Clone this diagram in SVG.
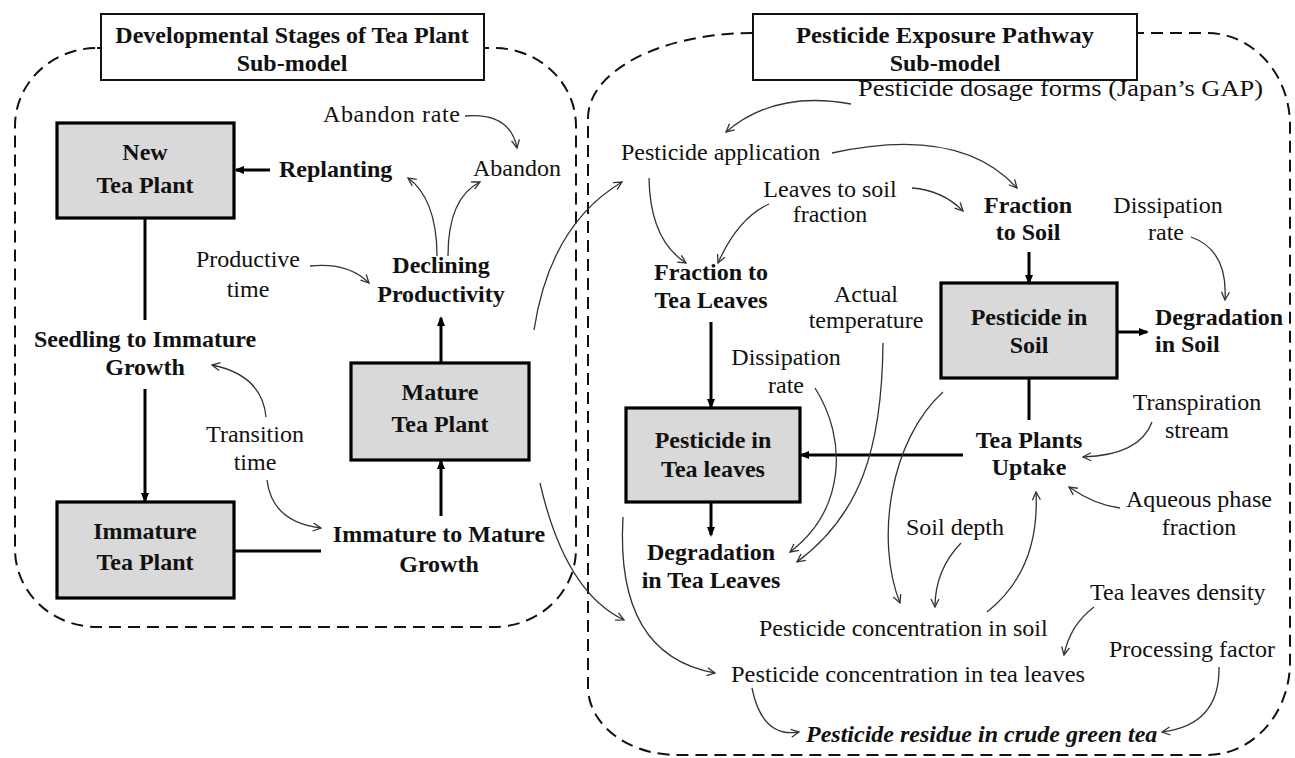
<svg xmlns="http://www.w3.org/2000/svg" width="1295" height="758" viewBox="0 0 1295 758">
<defs>
<style>
text{font-family:"Liberation Serif","Times New Roman",serif;font-size:24px;fill:#111}
.b{font-weight:bold}
.m{text-anchor:middle}
.panel{fill:none;stroke:#111;stroke-width:2;stroke-dasharray:12 7}
.title{fill:#fff;stroke:#111;stroke-width:2}
.box{fill:#d9d9d9;stroke:#000;stroke-width:3.2}
.thin{fill:none;stroke:#333;stroke-width:1.3;marker-end:url(#ah)}
.thick{fill:none;stroke:#000;stroke-width:3;marker-end:url(#ahb)}
.line{fill:none;stroke:#000;stroke-width:3}
</style>
<marker id="ah" viewBox="0 0 10 10" refX="9" refY="5" markerWidth="10" markerHeight="10" markerUnits="userSpaceOnUse" orient="auto">
<path d="M1,1 L9,5 L1,9" fill="none" stroke="#333" stroke-width="1.3"/>
</marker>
<marker id="ahb" viewBox="0 0 10 10" refX="8" refY="5" markerWidth="11" markerHeight="10" markerUnits="userSpaceOnUse" orient="auto">
<path d="M0,1 L10,5 L0,9 z" fill="#000"/>
</marker>
</defs>

<g id="panels">
<rect class="panel" x="15" y="48" width="561" height="579" rx="82" ry="78"/>
<path class="panel" d="M752,33 H1207 A83 92 0 0 1 1290,125 V662 A83 93 0 0 1 1207,755 H677 A89 68 0 0 1 588,687 V118 A164 85 0 0 1 752,33 Z"/>
</g>

<g id="connectors">
<path class="thin" d="M465,116 Q510,112 517,148"/>
<path class="thin" d="M437,256 C437,215 425,190 408,178"/>
<path class="thin" d="M448,256 C448,215 460,192 480,182"/>
<path class="thin" d="M310,266 Q348,262 369,283"/>
<path class="thin" d="M266,417 Q262,375 212,365"/>
<path class="thin" d="M267,480 Q272,522 321,528"/>
<path class="thick" d="M270,170 H236"/>
<path class="line" d="M145,218 V320"/>
<path class="thick" d="M145,389 V501"/>
<path class="line" d="M234,551 H321"/>
<path class="thick" d="M441,516 V461"/>
<path class="thick" d="M441,363 V318"/>
<path class="thin" d="M534,330 Q550,225 622,182"/>
<path class="thin" d="M540,483 Q565,592 624,620"/>
<path class="thin" d="M851,104 Q775,90 726,132"/>
<path class="thin" d="M832,153 Q960,125 1017,188"/>
<path class="thin" d="M649,178 Q650,240 686,263"/>
<path class="thin" d="M912,188 Q942,190 963,211"/>
<path class="thin" d="M769,204 Q738,218 718,263"/>
<path class="thin" d="M1191,237 Q1228,250 1225,300"/>
<path class="thick" d="M1029,252 V283"/>
<path class="thick" d="M1117,332 H1147"/>
<path class="line" d="M1029,378 V420"/>
<path class="thick" d="M963,455 H801"/>
<path class="thick" d="M711,322 V407"/>
<path class="thick" d="M711,502 V535"/>
<path class="thin" d="M1152,422 Q1140,455 1083,457"/>
<path class="thin" d="M1120,508 Q1095,505 1069,487"/>
<path class="thin" d="M815,388 C848,440 845,510 790,552"/>
<path class="thin" d="M883,343 C882,450 860,515 797,562"/>
<path class="thin" d="M943,392 C890,440 875,540 900,603"/>
<path class="thin" d="M961,543 Q935,570 935,607"/>
<path class="thin" d="M987,612 Q1040,570 1036,492"/>
<path class="thin" d="M623,517 Q615,655 715,673"/>
<path class="thin" d="M1094,607 Q1070,625 1064,655"/>
<path class="thin" d="M752,688 Q762,738 799,732"/>
<path class="thin" d="M1219,667 Q1220,725 1162,732"/>
</g>

<g id="title-left">
<rect class="title" x="101" y="14" width="383" height="66"/>
<text class="b m" x="292" y="43">Developmental Stages of Tea Plant</text>
<text class="b m" x="292" y="71">Sub-model</text>
</g>
<g id="title-right">
<rect class="title" x="753" y="14" width="384" height="66"/>
<text class="b m" x="945" y="43" textLength="298" lengthAdjust="spacingAndGlyphs">Pesticide Exposure Pathway</text>
<text class="b m" x="945" y="71">Sub-model</text>
</g>

<g id="new-tea-plant">
<rect class="box" x="57" y="123" width="177" height="95"/>
<text class="b m" x="145" y="160">New</text>
<text class="b m" x="145" y="193">Tea Plant</text>
</g>
<g id="immature-tea-plant">
<rect class="box" x="57" y="502" width="177" height="96"/>
<text class="b m" x="145" y="539">Immature</text>
<text class="b m" x="145" y="570">Tea Plant</text>
</g>
<g id="mature-tea-plant">
<rect class="box" x="351" y="363" width="178" height="97"/>
<text class="b m" x="440" y="400">Mature</text>
<text class="b m" x="440" y="432">Tea Plant</text>
</g>
<g id="abandon-rate"><text x="323" y="122" textLength="137" lengthAdjust="spacing">Abandon rate</text></g>
<g id="abandon"><text x="473" y="176">Abandon</text></g>
<g id="replanting"><text class="b" x="279" y="177">Replanting</text></g>
<g id="productive-time">
<text class="m" x="248" y="267">Productive</text>
<text class="m" x="248" y="297">time</text>
</g>
<g id="declining-productivity">
<text class="b m" x="441" y="273">Declining</text>
<text class="b m" x="441" y="302">Productivity</text>
</g>
<g id="seedling-growth">
<text class="b m" x="145" y="347">Seedling to Immature</text>
<text class="b m" x="145" y="375">Growth</text>
</g>
<g id="transition-time">
<text class="m" x="255" y="442">Transition</text>
<text class="m" x="255" y="470">time</text>
</g>
<g id="immature-mature-growth">
<text class="b m" x="439" y="542">Immature to Mature</text>
<text class="b m" x="439" y="572">Growth</text>
</g>

<g id="dosage-forms"><text x="858" y="96" textLength="405" lengthAdjust="spacingAndGlyphs">Pesticide dosage forms (Japan’s GAP)</text></g>
<g id="pesticide-application"><text x="621" y="160">Pesticide application</text></g>
<g id="leaves-to-soil">
<text class="m" x="830" y="197">Leaves to soil</text>
<text class="m" x="830" y="222">fraction</text>
</g>
<g id="fraction-to-soil">
<text class="b m" x="1028" y="213">Fraction</text>
<text class="b m" x="1028" y="240">to Soil</text>
</g>
<g id="dissipation-rate-soil">
<text class="m" x="1168" y="213">Dissipation</text>
<text class="m" x="1166" y="240">rate</text>
</g>
<g id="fraction-to-tea-leaves">
<text class="b m" x="711" y="280">Fraction to</text>
<text class="b m" x="711" y="308">Tea Leaves</text>
</g>
<g id="actual-temperature">
<text class="m" x="866" y="302">Actual</text>
<text class="m" x="866" y="328">temperature</text>
</g>
<g id="dissipation-rate-leaves">
<text class="m" x="786" y="365">Dissipation</text>
<text class="m" x="786" y="393">rate</text>
</g>
<g id="pesticide-in-soil">
<rect class="box" x="941" y="283" width="176" height="95"/>
<text class="b m" x="1029" y="325">Pesticide in</text>
<text class="b m" x="1029" y="353">Soil</text>
</g>
<g id="degradation-in-soil">
<text class="b" x="1155" y="325">Degradation</text>
<text class="b" x="1155" y="352">in Soil</text>
</g>
<g id="pesticide-in-tea-leaves">
<rect class="box" x="626" y="408" width="174" height="94"/>
<text class="b m" x="713" y="448">Pesticide in</text>
<text class="b m" x="713" y="477">Tea leaves</text>
</g>
<g id="tea-plants-uptake">
<text class="b m" x="1029" y="448">Tea Plants</text>
<text class="b m" x="1029" y="475">Uptake</text>
</g>
<g id="transpiration-stream">
<text class="m" x="1197" y="410">Transpiration</text>
<text class="m" x="1197" y="438">stream</text>
</g>
<g id="aqueous-phase-fraction">
<text class="m" x="1199" y="507">Aqueous phase</text>
<text class="m" x="1199" y="535">fraction</text>
</g>
<g id="degradation-in-tea-leaves">
<text class="b m" x="711" y="560">Degradation</text>
<text class="b m" x="711" y="588">in Tea Leaves</text>
</g>
<g id="soil-depth"><text class="m" x="955" y="535">Soil depth</text></g>
<g id="tea-leaves-density"><text x="1090" y="600">Tea leaves density</text></g>
<g id="conc-soil"><text x="759" y="636">Pesticide concentration in soil</text></g>
<g id="processing-factor"><text x="1109" y="657">Processing factor</text></g>
<g id="conc-tea-leaves"><text x="731" y="682" textLength="354" lengthAdjust="spacingAndGlyphs">Pesticide concentration in tea leaves</text></g>
<g id="residue"><text class="b" font-style="italic" x="806" y="742">Pesticide residue in crude green tea</text></g>
</svg>
